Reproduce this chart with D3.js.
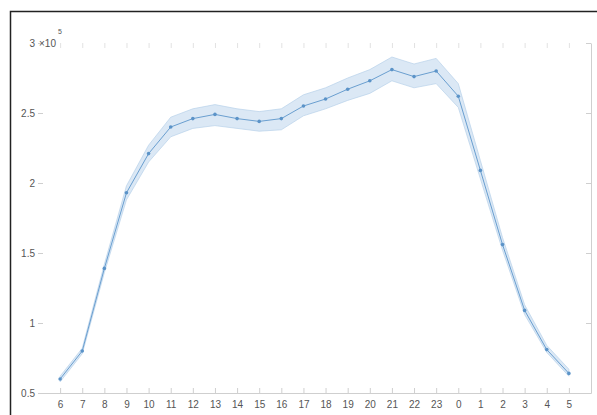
<!DOCTYPE html>
<html>
<head>
<meta charset="utf-8">
<script src="https://cdn.jsdelivr.net/npm/d3@7"></script>
<style>
  html, body { margin: 0; padding: 0; background: #fff; }
  svg { display: block; }
  text { font-family: "Liberation Sans", Arial, sans-serif; }
</style>
</head>
<body>
<svg id="chart" width="597" height="415"></svg>
<script>
// Hour of day, starting at 6 in the morning
const hours = [6,7,8,9,10,11,12,13,14,15,16,17,18,19,20,21,22,23,0,1,2,3,4,5];
// Mean value per hour (x 10^5)
const meanVals = [0.60,0.80,1.39,1.93,2.21,2.40,2.46,2.49,2.46,2.44,2.46,2.55,2.60,2.67,2.73,2.81,2.76,2.80,2.62,2.09,1.56,1.09,0.81,0.64];
// Confidence band, lower and upper edges (x 10^5)
const lowerVals = [0.58,0.78,1.36,1.88,2.15,2.33,2.39,2.41,2.39,2.37,2.38,2.48,2.53,2.59,2.64,2.73,2.68,2.71,2.54,2.03,1.52,1.06,0.79,0.62];
const upperVals = [0.62,0.82,1.42,1.98,2.27,2.47,2.53,2.56,2.53,2.51,2.53,2.63,2.68,2.75,2.81,2.90,2.85,2.89,2.71,2.16,1.61,1.13,0.84,0.67];
const yTicks = [0.5, 1, 1.5, 2, 2.5, 3];

const svg = d3.select("#chart");
const plotL = 38, plotR = 591, plotT = 43, plotB = 393;

// Outer frame (top and left edges)
svg.append("path")
  .attr("d", "M10.5,415 L10.5,11.5 L597,11.5")
  .attr("fill", "none").attr("stroke", "#222").attr("stroke-width", 1.5);

const x = d3.scaleLinear().domain([0, 25]).range([plotL, plotR]);
const y = d3.scaleLinear().domain([0.5, 3]).range([plotB, plotT]);
const idx = hours.map((h, i) => i + 1);

const axisColor = "#cfcfcf";
const labelColor = "#555";

// Bottom axis
const xAxis = svg.append("g").attr("transform", `translate(0,${plotB})`)
  .call(d3.axisBottom(x).tickValues(idx).tickFormat((d, i) => hours[i]).tickSizeInner(-5).tickSizeOuter(0).tickPadding(8));
xAxis.select(".domain").attr("stroke", axisColor);
xAxis.selectAll(".tick line").attr("stroke", axisColor);
xAxis.selectAll("text").attr("fill", labelColor).attr("font-size", 10);

// Top ticks
const xTop = svg.append("g").attr("transform", `translate(0,${plotT})`)
  .call(d3.axisTop(x).tickValues(idx).tickFormat("").tickSizeInner(-5).tickSizeOuter(0));
xTop.select(".domain").remove();
xTop.selectAll(".tick line").attr("stroke", "#e2e2e2");

// Left ticks
const yAxis = svg.append("g").attr("transform", `translate(${plotL},0)`)
  .call(d3.axisLeft(y).tickValues(yTicks).tickFormat(d => d).tickSizeInner(-5).tickSizeOuter(0).tickPadding(3));
yAxis.select(".domain").remove();
yAxis.selectAll(".tick line").attr("stroke", axisColor);
yAxis.selectAll("text").attr("fill", labelColor).attr("font-size", 10);

// Right axis
const yRight = svg.append("g").attr("transform", `translate(${plotR},0)`)
  .call(d3.axisRight(y).tickValues(yTicks).tickFormat("").tickSizeInner(-5).tickSizeOuter(0));
yRight.select(".domain").attr("stroke", axisColor);
yRight.selectAll(".tick line").attr("stroke", axisColor);

// Exponent label
const expo = svg.append("text").attr("x", plotL + 1).attr("y", plotT + 3.5)
  .attr("fill", labelColor).attr("font-size", 10);
expo.append("tspan").text("×10");
expo.append("tspan").attr("dy", -13).attr("dx", 2).attr("font-size", 7).text("5");

// Confidence band
const band = d3.area()
  .x((d, i) => x(idx[i]))
  .y0((d, i) => y(lowerVals[i]))
  .y1((d, i) => y(upperVals[i]));
svg.append("path").datum(meanVals)
  .attr("d", band)
  .attr("fill", "#dbe8f5")
  .attr("stroke", "#b7d1ea").attr("stroke-width", 0.7);

// Mean line
const line = d3.line().x((d, i) => x(idx[i])).y(d => y(d));
svg.append("path").datum(meanVals)
  .attr("d", line)
  .attr("fill", "none").attr("stroke", "#6a9fd0").attr("stroke-width", 1);

svg.append("g").selectAll("circle").data(meanVals).join("circle")
  .attr("cx", (d, i) => x(idx[i])).attr("cy", d => y(d))
  .attr("r", 1.8).attr("fill", "#5b93c8");
</script>
</body>
</html>
